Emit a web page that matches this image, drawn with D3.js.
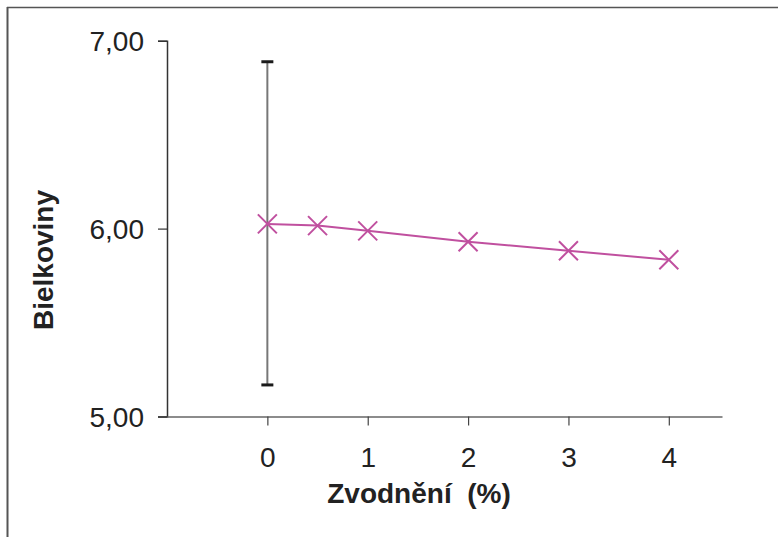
<!DOCTYPE html>
<html><head><meta charset="utf-8">
<script src="https://cdn.jsdelivr.net/npm/d3@7"></script>
<style>body{margin:0;background:#fff}svg{display:block}</style>
</head><body>
<script>
const xValues = [0, 0.5, 1, 2, 3, 4];
const yValues = [6.025, 6.016, 5.988, 5.93, 5.882, 5.834];
const errIndex = 0;
const errLow = 5.168, errHigh = 6.888;
const xTicks = [0, 1, 2, 3, 4];
const yTicks = [5, 6, 7];
const xTitle = "Zvodnění  (%)";
const yTitle = "Bielkoviny";

const W = 778, H = 537;
const svg = d3.select("body").append("svg").attr("width", W).attr("height", H);
const font = "Liberation Sans, Arial, sans-serif";

// frame
svg.append("line").attr("x1",7).attr("x2",W).attr("y1",7.5).attr("y2",7.5).attr("stroke","#555").attr("stroke-width",1.5);
svg.append("line").attr("x1",7.5).attr("x2",7.5).attr("y1",7).attr("y2",H).attr("stroke","#555").attr("stroke-width",2);

const x = d3.scaleLinear().domain([-1, 4.53]).range([167, 722]);
const y = d3.scaleLinear().domain([5, 7]).range([416.5, 40.7]);

// y axis
const ya = svg.append("g").attr("transform","translate(167,0)")
  .call(d3.axisLeft(y).tickValues(yTicks).tickSize(9).tickPadding(14).tickFormat(d => d3.format(".2f")(d).replace(".", ",")));
ya.select(".domain").attr("stroke","#333").attr("stroke-width",1.5);
ya.selectAll(".tick line").attr("stroke","#333").attr("stroke-width",1.2);
ya.selectAll("text").attr("font-family",font).attr("font-size",28).attr("fill","#222").attr("dy","0.36em");

// x axis
const xa = svg.append("g").attr("transform","translate(0,416.5)")
  .call(d3.axisBottom(x).tickValues(xTicks).tickFormat(d3.format("d")).tickSize(9).tickPadding(22).tickSizeOuter(0));
xa.select(".domain").attr("stroke","#666").attr("stroke-width",1.5);
xa.selectAll(".tick line").attr("stroke","#444").attr("stroke-width",1.2);
xa.selectAll("text").attr("font-family",font).attr("font-size",28).attr("fill","#222").attr("dy","0.71em");

// error bar
const ex = x(xValues[errIndex]);
svg.append("line").attr("x1",ex).attr("x2",ex).attr("y1",y(errHigh)).attr("y2",y(errLow)).attr("stroke","#777").attr("stroke-width",2);
[errHigh, errLow].forEach(v => {
  svg.append("line").attr("x1",ex-6).attr("x2",ex+6).attr("y1",y(v)).attr("y2",y(v)).attr("stroke","#1a1a1a").attr("stroke-width",3);
});

// line
const pts = xValues.map((d,i)=>[d, yValues[i]]);
const color = "#c0509f";
svg.append("path").datum(pts)
  .attr("d", d3.line().x(d=>x(d[0])).y(d=>y(d[1])))
  .attr("fill","none").attr("stroke",color).attr("stroke-width",2);

// markers
const s = 9.5;
svg.selectAll(".mk").data(pts).join("path").attr("class","mk")
  .attr("d", d => { const cx=x(d[0]), cy=y(d[1]); return `M${cx-s},${cy-s}L${cx+s},${cy+s}M${cx-s},${cy+s}L${cx+s},${cy-s}`; })
  .attr("stroke",color).attr("stroke-width",2).attr("fill","none");

// titles
svg.append("text").attr("x",419).attr("y",503).attr("text-anchor","middle")
  .style("white-space","pre").attr("xml:space","preserve")
  .attr("font-family",font).attr("font-weight","bold").attr("font-size",28).attr("fill","#222").text(xTitle);
svg.append("text").attr("transform","translate(53,260) rotate(-90)").attr("text-anchor","middle")
  .attr("font-family",font).attr("font-weight","bold").attr("font-size",28).attr("fill","#222").text(yTitle);
</script>
</body></html>
